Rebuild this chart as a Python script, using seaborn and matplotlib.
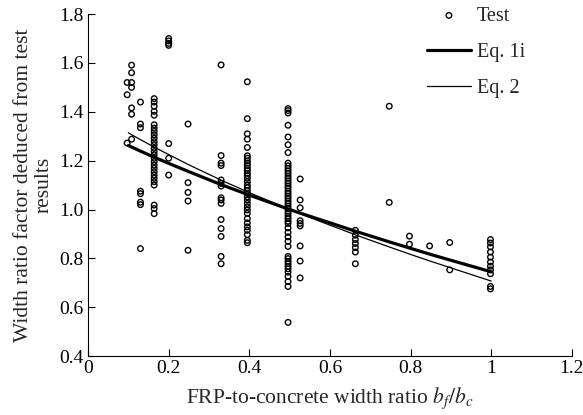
import numpy as np
import pandas as pd
import matplotlib
matplotlib.use("Agg")
import matplotlib.pyplot as plt
import seaborn as sns

# ---- data ----
group_x = [0.097, 0.108, 0.13, 0.164, 0.2, 0.248, 0.33, 0.395, 0.496, 0.526,
           0.663, 0.747, 0.797, 0.847, 0.897, 0.998]
group_y = [
    [1.52, 1.47, 1.272],
    [1.591, 1.56, 1.52, 1.50, 1.416, 1.39, 1.288],
    [1.44, 1.35, 1.335, 1.075, 1.065, 1.03, 1.02, 0.84],
    [1.454, 1.44, 1.423, 1.402, 1.386, 1.347, 1.333, 1.32, 1.306, 1.292, 1.278,
     1.265, 1.251, 1.237, 1.224, 1.21, 1.196, 1.182, 1.169, 1.155, 1.141, 1.128,
     1.114, 1.10, 1.018, 1.004, 0.983],
    [1.70, 1.69, 1.68, 1.672, 1.27, 1.21, 1.141],
    [1.35, 1.11, 1.07, 1.035, 0.833],
    [1.592, 1.221, 1.19, 1.18, 1.121, 1.107, 1.096, 1.048, 1.039, 1.025, 0.959,
     0.922, 0.890, 0.808, 0.778],
    [1.523, 1.372, 1.310, 1.288, 1.254, 1.220, 1.210, 1.199, 1.190, 1.180, 1.169,
     1.159, 1.148, 1.139, 1.128, 1.114, 1.100, 1.089, 1.077, 1.066, 1.052, 1.039,
     1.025, 1.011, 0.998, 0.984, 0.963, 0.945, 0.929, 0.915, 0.897, 0.874, 0.864],
    [1.413, 1.405, 1.395, 1.345, 1.297, 1.265, 1.233, 1.190, 1.179, 1.169, 1.158,
     1.148, 1.137, 1.128, 1.117, 1.107, 1.096, 1.087, 1.076, 1.066, 1.055, 1.046,
     1.035, 1.025, 1.014, 1.004, 0.993, 0.984, 0.973, 0.963, 0.952, 0.943, 0.925,
     0.906, 0.888, 0.870, 0.849, 0.808, 0.799, 0.788, 0.778, 0.767, 0.757, 0.744,
     0.726, 0.705, 0.685, 0.538],
    [1.125, 1.039, 1.007, 0.954, 0.943, 0.933, 0.851, 0.789, 0.720],
    [0.915, 0.895, 0.877, 0.861, 0.844, 0.826, 0.778],
    [1.423, 1.029],
    [0.891, 0.858],
    [0.851],
    [0.865, 0.753],
    [0.877, 0.863, 0.847, 0.826, 0.805, 0.785, 0.768, 0.753, 0.737, 0.685, 0.675],
]

line_x = [0.1, 0.13, 0.167, 0.2, 0.25, 0.333, 0.4, 0.5, 0.525, 0.667,
          0.75, 0.8, 0.85, 0.9, 1.0]
eq1i_y = [1.262, 1.239, 1.212, 1.189, 1.155, 1.100, 1.059, 1.000, 0.986, 0.909,
          0.866, 0.841, 0.816, 0.792, 0.745]
eq2_y = [1.314, 1.286, 1.253, 1.225, 1.183, 1.118, 1.069, 1.000, 0.983, 0.894,
         0.845, 0.816, 0.788, 0.761, 0.707]

x_ticks = [0, 0.2, 0.4, 0.6, 0.8, 1.0, 1.2]
x_tick_labels = ["0", "0.2", "0.4", "0.6", "0.8", "1", "1.2"]
y_ticks = [0.4, 0.6, 0.8, 1.0, 1.2, 1.4, 1.6, 1.8]
y_tick_labels = ["0.4", "0.6", "0.8", "1.0", "1.2", "1.4", "1.6", "1.8"]

# ---- build tables ----
tx, ty = [], []
for gx, gys in zip(group_x, group_y):
    for v in gys:
        tx.append(gx)
        ty.append(v)
test_df = pd.DataFrame({"x": tx, "y": ty})
lines_df = pd.DataFrame({"x": line_x, "eq1i": eq1i_y, "eq2": eq2_y})

sns.set_style("ticks")
plt.rcParams["font.family"] = ["Liberation Serif", "DejaVu Serif"]
plt.rcParams["mathtext.fontset"] = "stix"

fig = plt.figure(figsize=(5.83, 4.15), dpi=100)
ax = fig.add_axes([0.151, 0.142, 0.830, 0.824])

sns.scatterplot(data=test_df, x="x", y="y", ax=ax, marker="o", s=16,
                facecolor="none", edgecolor="black", linewidth=1.0,
                label="Test", zorder=3)
sns.lineplot(data=lines_df, x="x", y="eq1i", ax=ax, color="black",
             linewidth=2.3, label="Eq. 1i", sort=False, zorder=4)
sns.lineplot(data=lines_df, x="x", y="eq2", ax=ax, color="black",
             linewidth=0.9, label="Eq. 2", sort=False, zorder=4)

ax.set_xlim(0, 1.2)
ax.set_ylim(0.4, 1.8)
ax.set_xticks(x_ticks)
ax.set_xticklabels(x_tick_labels)
ax.set_yticks(y_ticks)
ax.set_yticklabels(y_tick_labels)
ax.tick_params(direction="in", length=5, width=0.8, labelsize=14, colors="black",
               pad=3)
for s in ["top", "right"]:
    ax.spines[s].set_visible(False)
for s in ["left", "bottom"]:
    ax.spines[s].set_linewidth(0.8)
    ax.spines[s].set_color("black")

ax.set_xlabel("FRP-to-concrete width ratio $b_f/b_c$", fontsize=15.5, labelpad=6)
ax.set_ylabel("Width ratio factor deduced from test\nresults", fontsize=15.5,
              labelpad=4, linespacing=1.15)

leg = ax.legend(loc="upper left", bbox_to_anchor=(0.70, 1.022), frameon=False,
                fontsize=14.5, handlelength=2.2, labelspacing=0.85,
                handletextpad=0.3, borderaxespad=0.0, borderpad=0.0)

fig.savefig("out.png", dpi=100)
